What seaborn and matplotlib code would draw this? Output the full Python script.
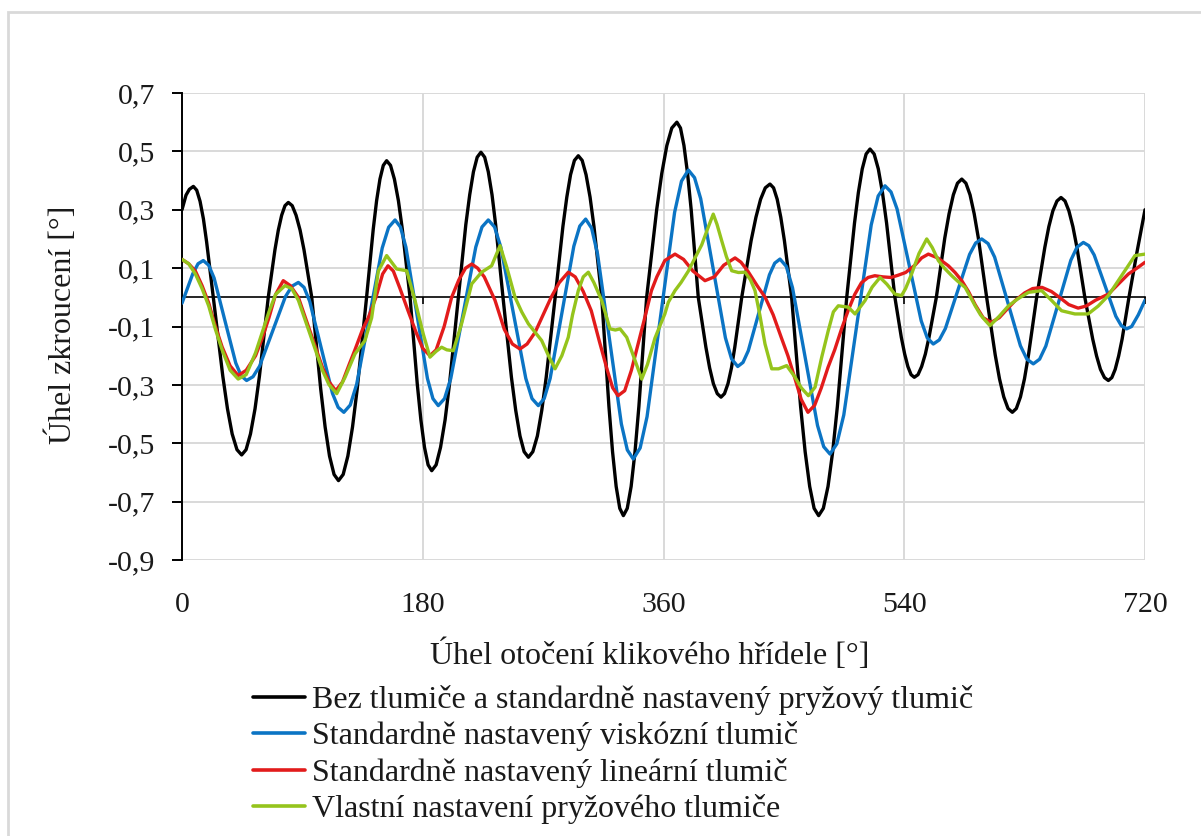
import matplotlib
matplotlib.use("Agg")
import matplotlib.pyplot as plt
import seaborn as sns
from matplotlib.patches import Rectangle

# ---------------- data ----------------
series_names = [
    "Bez tlumiče a standardně nastavený pryžový tlumič",
    "Standardně nastavený viskózní tlumič",
    "Standardně nastavený lineární tlumič",
    "Vlastní nastavení pryžového tlumiče",
]
series_colors = ["#000000", "#0B74C4", "#E21B1B", "#95C41C"]

x_ticks = [0, 180, 360, 540, 720]
y_ticks = [-0.9, -0.7, -0.5, -0.3, -0.1, 0.1, 0.3, 0.5, 0.7]
y_tick_labels = ["-0,9", "-0,7", "-0,5", "-0,3", "-0,1", "0,1", "0,3", "0,5", "0,7"]

black_x = [0, 3, 5.5, 8.5, 11.0, 13.5, 16.0, 18.4, 23.4,
           30.5, 34.0, 37.5, 41.1, 44.6, 47.9, 51.2, 54.6, 57.9, 64.5,
           69.5, 72.0, 74.5, 77.0, 79.5, 82.4, 85.3, 88.3, 91.2, 97,
           103.7, 107, 110.3, 113.7, 117, 120.5, 124, 127.5, 131, 138,
           143, 145.5, 148, 150.5, 153, 155.9, 158.8, 161.8, 164.7, 170.5,
           175.9, 178.6, 181.3, 184.0, 186.7, 190.0, 193.3, 196.7, 200.0, 206.6,
           212.2, 215.1, 217.9, 220.7, 223.5, 226.3, 229.0, 231.8, 234.5, 240,
           246.3, 249.5, 252.7, 255.8, 259, 262.3, 265.7, 269.0, 272.3, 279,
           284.8, 287.7, 290.5, 293.4, 296.3, 299.2, 302.1, 305.1, 308.0, 313.8,
           319.2, 321.9, 324.6, 327.3, 330, 332.9, 335.8, 338.7, 341.6, 347.4,
           354.9, 358.7, 362.5, 366.2, 370, 372.7, 375.3, 378.0, 380.7, 386,
           391.7, 394.5, 397.3, 400.2, 403, 405.6, 408.2, 410.8, 413.3, 418.5,
           425.5, 429.1, 432.6, 436.1, 439.6, 442.3, 445.0, 447.7, 450.4, 455.8,
           462.5, 465.9, 469.3, 472.6, 476, 479.5, 483.0, 486.5, 490.0, 497,
           502.8, 505.7, 508.6, 511.5, 514.4, 517.5, 520.6, 523.7, 526.8, 533,
           537.8, 540.3, 542.7, 545.1, 547.5, 550.3, 553.0, 555.8, 558.5, 564,
           570.3, 573.5, 576.7, 579.8, 583, 586.1, 589.2, 592.3, 595.4, 601.6,
           608.0, 611.2, 614.4, 617.6, 620.8, 623.8, 626.9, 629.9, 632.9, 639,
           645.1, 648.1, 651.1, 654.2, 657.2, 660.2, 663.1, 666.1, 669.1, 675,
           680.9, 683.8, 686.7, 689.7, 692.6, 695.2, 697.7, 700.3, 702.9, 708,
           714, 720]
black_y = [0.30, 0.35, 0.37, 0.38, 0.367, 0.329, 0.269, 0.19, 0,
           -0.27, -0.382, -0.468, -0.522, -0.54, -0.522, -0.468, -0.382, -0.27, 0,
           0.163, 0.230, 0.281, 0.314, 0.325, 0.314, 0.281, 0.230, 0.163, 0,
           -0.314, -0.444, -0.544, -0.607, -0.628, -0.607, -0.544, -0.444, -0.314, 0,
           0.234, 0.331, 0.405, 0.452, 0.468, 0.452, 0.405, 0.331, 0.234, 0,
           -0.297, -0.42, -0.514, -0.574, -0.594, -0.574, -0.514, -0.42, -0.297, 0,
           0.249, 0.351, 0.430, 0.480, 0.497, 0.480, 0.430, 0.351, 0.249, 0,
           -0.274, -0.387, -0.475, -0.529, -0.548, -0.529, -0.475, -0.387, -0.274, 0,
           0.243, 0.343, 0.420, 0.469, 0.485, 0.469, 0.420, 0.343, 0.243, 0,
           -0.374, -0.529, -0.648, -0.723, -0.748, -0.723, -0.648, -0.529, -0.374, 0,
           0.30, 0.424, 0.52, 0.58, 0.60, 0.58, 0.52, 0.424, 0.30, 0,
           -0.171, -0.242, -0.296, -0.330, -0.342, -0.330, -0.296, -0.242, -0.171, 0,
           0.194, 0.274, 0.336, 0.375, 0.388, 0.375, 0.336, 0.274, 0.194, 0,
           -0.374, -0.529, -0.648, -0.723, -0.748, -0.723, -0.648, -0.529, -0.374, 0,
           0.254, 0.359, 0.440, 0.491, 0.508, 0.491, 0.440, 0.359, 0.254, 0,
           -0.137, -0.194, -0.237, -0.265, -0.274, -0.265, -0.237, -0.194, -0.137, 0,
           0.203, 0.286, 0.351, 0.391, 0.405, 0.391, 0.351, 0.286, 0.203, 0,
           -0.197, -0.279, -0.341, -0.381, -0.394, -0.381, -0.341, -0.279, -0.197, 0,
           0.171, 0.242, 0.296, 0.330, 0.342, 0.330, 0.296, 0.242, 0.171, 0,
           -0.143, -0.201, -0.247, -0.275, -0.285, -0.275, -0.247, -0.201, -0.143, 0,
           0.155, 0.30]

blue_x = [0, 4, 8, 12, 15.9,
          19.95, 24.0, 32.1, 40.2, 44.25, 48.3,
          53.1, 58.0, 67.65, 77.3, 82.2, 87,
          91.25, 95.5, 104, 112.5, 116.75, 121,
          125.8, 130.6, 140.15, 149.7, 154.5, 159.3,
          163.3, 167.4, 175.45, 183.5, 187.6, 191.6,
          196.3, 200.95, 210.3, 219.65, 224.3, 229,
          233.7, 238.35, 247.7, 257.05, 261.7, 266.4,
          270.8, 275.25, 284.1, 292.95, 297.4, 301.8,
          306.25, 310.7, 319.6, 328.5, 332.95, 337.4,
          342.55, 347.7, 358, 368.3, 373.45, 378.6,
          383.2, 387.8, 397.05, 406.3, 410.9, 415.5,
          419.45, 423.4, 431.3, 439.2, 443.15, 447.1,
          451.8, 456.45, 465.8, 475.15, 479.8, 484.5,
          489.6, 494.8, 505.05, 515.3, 520.5, 525.6,
          530.1, 534.6, 543.65, 552.7, 557.2, 561.7,
          566.2, 570.75, 579.8, 588.85, 593.4, 597.9,
          602.7, 607.55, 617.2, 626.85, 631.7, 636.5,
          641.2, 645.85, 655.2, 664.55, 669.2, 673.9,
          677.95, 682, 690.1, 698.2, 702.25, 706.3,
          710, 715, 720]
blue_y = [-0.02, 0.03, 0.08, 0.115, 0.126,
          0.110, 0.066, -0.080, -0.225, -0.269, -0.285,
          -0.272, -0.236, -0.117, 0.002, 0.038, 0.051,
          0.034, -0.014, -0.172, -0.329, -0.377, -0.394,
          -0.369, -0.298, -0.065, 0.169, 0.240, 0.265,
          0.241, 0.172, -0.053, -0.278, -0.347, -0.371,
          -0.347, -0.278, -0.053, 0.172, 0.241, 0.265,
          0.241, 0.172, -0.053, -0.278, -0.347, -0.371,
          -0.347, -0.278, -0.052, 0.175, 0.244, 0.268,
          0.237, 0.148, -0.143, -0.434, -0.523, -0.554,
          -0.516, -0.409, -0.059, 0.291, 0.398, 0.436,
          0.410, 0.338, 0.100, -0.139, -0.211, -0.237,
          -0.223, -0.183, -0.053, 0.077, 0.117, 0.131,
          0.106, 0.033, -0.203, -0.439, -0.512, -0.537,
          -0.502, -0.403, -0.078, 0.248, 0.347, 0.382,
          0.361, 0.303, 0.111, -0.081, -0.139, -0.16,
          -0.146, -0.107, 0.02, 0.147, 0.186, 0.20,
          0.184, 0.138, -0.014, -0.166, -0.212, -0.228,
          -0.212, -0.167, -0.02, 0.127, 0.172, 0.188,
          0.177, 0.145, 0.04, -0.065, -0.097, -0.108,
          -0.10, -0.06, -0.01]

red_x = [0, 5, 10, 15, 20, 25, 30, 36, 42, 48, 55, 60, 65, 70, 75.7, 81, 87, 93, 99, 105, 110,
         115, 120, 125, 129.3, 135, 139.3, 145, 150, 154, 158, 163, 169, 175, 180, 185.4, 190,
         196, 201.6, 207, 212, 216.6, 221, 226, 234, 241, 247, 252.7, 258, 264, 270, 276, 282,
         288.8, 294, 300, 306, 312, 318, 322, 326, 331, 336, 341, 346, 351, 355, 361, 368.6,
         375, 382, 391, 398, 405, 413.5, 418, 423, 430, 436, 442, 448, 453, 458, 463, 468, 473,
         478, 483, 488, 493, 498, 503, 508, 513, 518, 524, 530, 535, 541, 548, 553, 558, 565,
         573, 578, 583, 588, 593, 599, 605, 611, 617, 623, 630, 636, 643, 650, 656, 663, 670,
         676, 683, 692.6, 700, 707.6, 714, 720]
red_y = [0.13, 0.115, 0.09, 0.04, -0.02, -0.10, -0.17, -0.235, -0.268, -0.25, -0.20, -0.14, -0.07,
         0.01, 0.057, 0.04, 0.0, -0.08, -0.16, -0.24, -0.29, -0.32, -0.29, -0.23, -0.18, -0.11,
         -0.07, 0.0, 0.08, 0.108, 0.09, 0.03, -0.046, -0.12, -0.175, -0.20, -0.18, -0.10, 0.0,
         0.06, 0.10, 0.114, 0.10, 0.07, -0.01, -0.11, -0.16, -0.177, -0.16, -0.12, -0.06, 0.0,
         0.05, 0.086, 0.07, 0.02, -0.046, -0.15, -0.25, -0.31, -0.337, -0.32, -0.25, -0.16,
         -0.07, 0.023, 0.07, 0.126, 0.148, 0.13, 0.09, 0.057, 0.07, 0.11, 0.135, 0.12, 0.09,
         0.04, 0.0, -0.06, -0.137, -0.2, -0.274, -0.35, -0.394, -0.37, -0.31, -0.24, -0.18,
         -0.11, -0.046, 0.01, 0.05, 0.068, 0.074, 0.07, 0.068, 0.075, 0.085, 0.11, 0.135,
         0.148, 0.135, 0.108, 0.085, 0.057, 0.02, -0.025, -0.07, -0.086, -0.07, -0.04, -0.011,
         0.015, 0.03, 0.034, 0.02, 0.0, -0.025, -0.037, -0.03, -0.01, 0.011, 0.045, 0.08, 0.10,
         0.12]

green_x = [0, 5, 10, 15, 20, 25, 30, 36, 42, 48, 55, 60, 65, 70, 77, 82, 87, 93, 99, 105, 110,
           115.7, 121.9, 129.3, 136.8, 141.8, 146.8, 153, 160.5, 168, 174.2, 180.4, 185.4, 190,
           194.1, 198, 202.8, 209, 216.6, 224, 231.5, 237.8, 243, 249, 254, 259, 264, 268.9,
           274, 278.9, 284, 288.8, 292, 296.3, 300, 303.8, 308, 313.8, 320, 324, 327.5, 332.5,
           338.8, 343.7, 348, 353.6, 358, 361, 363.6, 368.6, 373, 378.6, 383, 388.6, 393, 397.2,
           400, 403.5, 407, 411, 416, 421, 425, 428.4, 432, 435.9, 440.9, 446, 452.1, 458.4,
           463, 468.3, 473.3, 478.3, 483.2, 487, 490.7, 498.2, 503.2, 506, 510.7, 516, 521.9,
           527, 533, 538, 541, 545.5, 551, 556.8, 561, 565.5, 570, 575.5, 580, 585.5, 589, 593,
           597, 600.7, 604.1, 611, 618, 625, 632.9, 642.7, 650, 657.6, 667.6, 677.5, 685,
           692.6, 699, 705, 712.5, 720]
green_y = [0.13, 0.115, 0.08, 0.03, -0.03, -0.11, -0.18, -0.25, -0.28, -0.265, -0.19, -0.12,
           -0.05, 0.01, 0.04, 0.03, -0.01, -0.09, -0.17, -0.25, -0.30, -0.33, -0.274, -0.194,
           -0.148, -0.07, 0.09, 0.143, 0.097, 0.091, -0.011, -0.126, -0.205, -0.185, -0.171,
           -0.18, -0.183, -0.091, 0.046, 0.086, 0.108, 0.177, 0.1, 0.0, -0.05, -0.091, -0.12,
           -0.148, -0.2, -0.245, -0.2, -0.137, -0.06, 0.023, 0.07, 0.086, 0.05, -0.011, -0.108,
           -0.112, -0.108, -0.137, -0.217, -0.28, -0.23, -0.14, -0.09, -0.057, -0.017, 0.023,
           0.05, 0.09, 0.13, 0.18, 0.235, 0.285, 0.25, 0.194, 0.14, 0.091, 0.085, 0.086, 0.06,
           0.023, -0.06, -0.16, -0.245, -0.245, -0.234, -0.274, -0.31, -0.337, -0.308, -0.205,
           -0.114, -0.05, -0.029, -0.034, -0.057, -0.04, -0.011, 0.035, 0.068, 0.045, 0.011,
           0.006, 0.03, 0.08, 0.15, 0.20, 0.17, 0.126, 0.1, 0.074, 0.055, 0.034, 0.005, -0.029,
           -0.06, -0.08, -0.097, -0.065, -0.029, -0.005, 0.017, 0.023, -0.01, -0.046, -0.057,
           -0.057, -0.03, 0.006, 0.05, 0.091, 0.143, 0.148]

x_label = "Úhel otočení klikového hřídele [°]"
y_label = "Úhel zkroucení [°]"

# ---------------- style ----------------
sns.set_theme(style="white")
plt.rcParams["font.family"] = ["Liberation Serif", "DejaVu Serif"]
text_color = "#1a1a1a"
grid_color = "#d9d9d9"
fs_tick = 21.5
fs_lab = 23

fig = plt.figure(figsize=(12.01, 8.36), dpi=100)
fig.patch.set_facecolor("white")
fig.patches.append(Rectangle((8 / 1201, -0.2), 1.2, 1 - 12 / 836 + 0.2,
                             transform=fig.transFigure, fill=False,
                             edgecolor="#d9d9d9", linewidth=2.0))

ax = fig.add_axes([182 / 1201, 1 - 560 / 836, (1145 - 182) / 1201, (560 - 93) / 836])
ax.set_facecolor("white")

all_x = [black_x, blue_x, red_x, green_x]
all_y = [black_y, blue_y, red_y, green_y]
for xs, ys, name, col in zip(all_x, all_y, series_names, series_colors):
    sns.lineplot(x=xs, y=ys, ax=ax, color=col, linewidth=2.4, label=name,
                 estimator=None, sort=False, zorder=3)

ax.set_xlim(0, 720)
ax.set_ylim(-0.9, 0.7)
ax.set_yticks(y_ticks)
ax.set_yticklabels(y_tick_labels)
ax.set_xticks(x_ticks)
ax.grid(True, color=grid_color, linewidth=1.4)
ax.set_axisbelow(True)

for s in ["top", "right"]:
    ax.spines[s].set_visible(False)
ax.spines["left"].set_color("black")
ax.spines["left"].set_linewidth(1.4)
ax.spines["bottom"].set_position(("data", 0))
ax.spines["bottom"].set_color("black")
ax.spines["bottom"].set_linewidth(1.2)
ax.spines["bottom"].set_zorder(2.5)

ax.tick_params(axis="y", direction="out", length=7.5, width=1.4, color="black",
               labelsize=fs_tick, labelcolor=text_color, pad=12, left=True)
ax.tick_params(axis="x", direction="out", length=5, width=1.2, color="black",
               labelbottom=False, bottom=True)

sec = ax.secondary_xaxis(0)
sec.set_xticks(x_ticks)
sec.set_xticklabels([str(v) for v in x_ticks])
sec.spines["bottom"].set_visible(False)
sec.tick_params(axis="x", length=0, labelsize=fs_tick, labelcolor=text_color, pad=23)

ax.set_xlabel("")
ax.set_ylabel("")
fig.text(650 / 1201, 1 - 655 / 836, x_label, ha="center", va="center",
         fontsize=fs_lab, color=text_color)
fig.text(62 / 1201, 1 - 325 / 836, y_label, ha="center", va="center",
         rotation=90, fontsize=fs_lab, color=text_color)

handles, labels = ax.get_legend_handles_labels()
ax.get_legend().remove()
leg = fig.legend(handles, labels, loc="upper left",
                 bbox_to_anchor=(253 / 1201, 1 - 685 / 836),
                 frameon=False, fontsize=fs_lab, handlelength=1.63,
                 handletextpad=0.22, labelspacing=0.2, borderpad=0,
                 borderaxespad=0)
for t in leg.get_texts():
    t.set_color(text_color)
for h in leg.legend_handles:
    h.set_linewidth(2.6)

fig.savefig("out.png", dpi=100, facecolor="white")
